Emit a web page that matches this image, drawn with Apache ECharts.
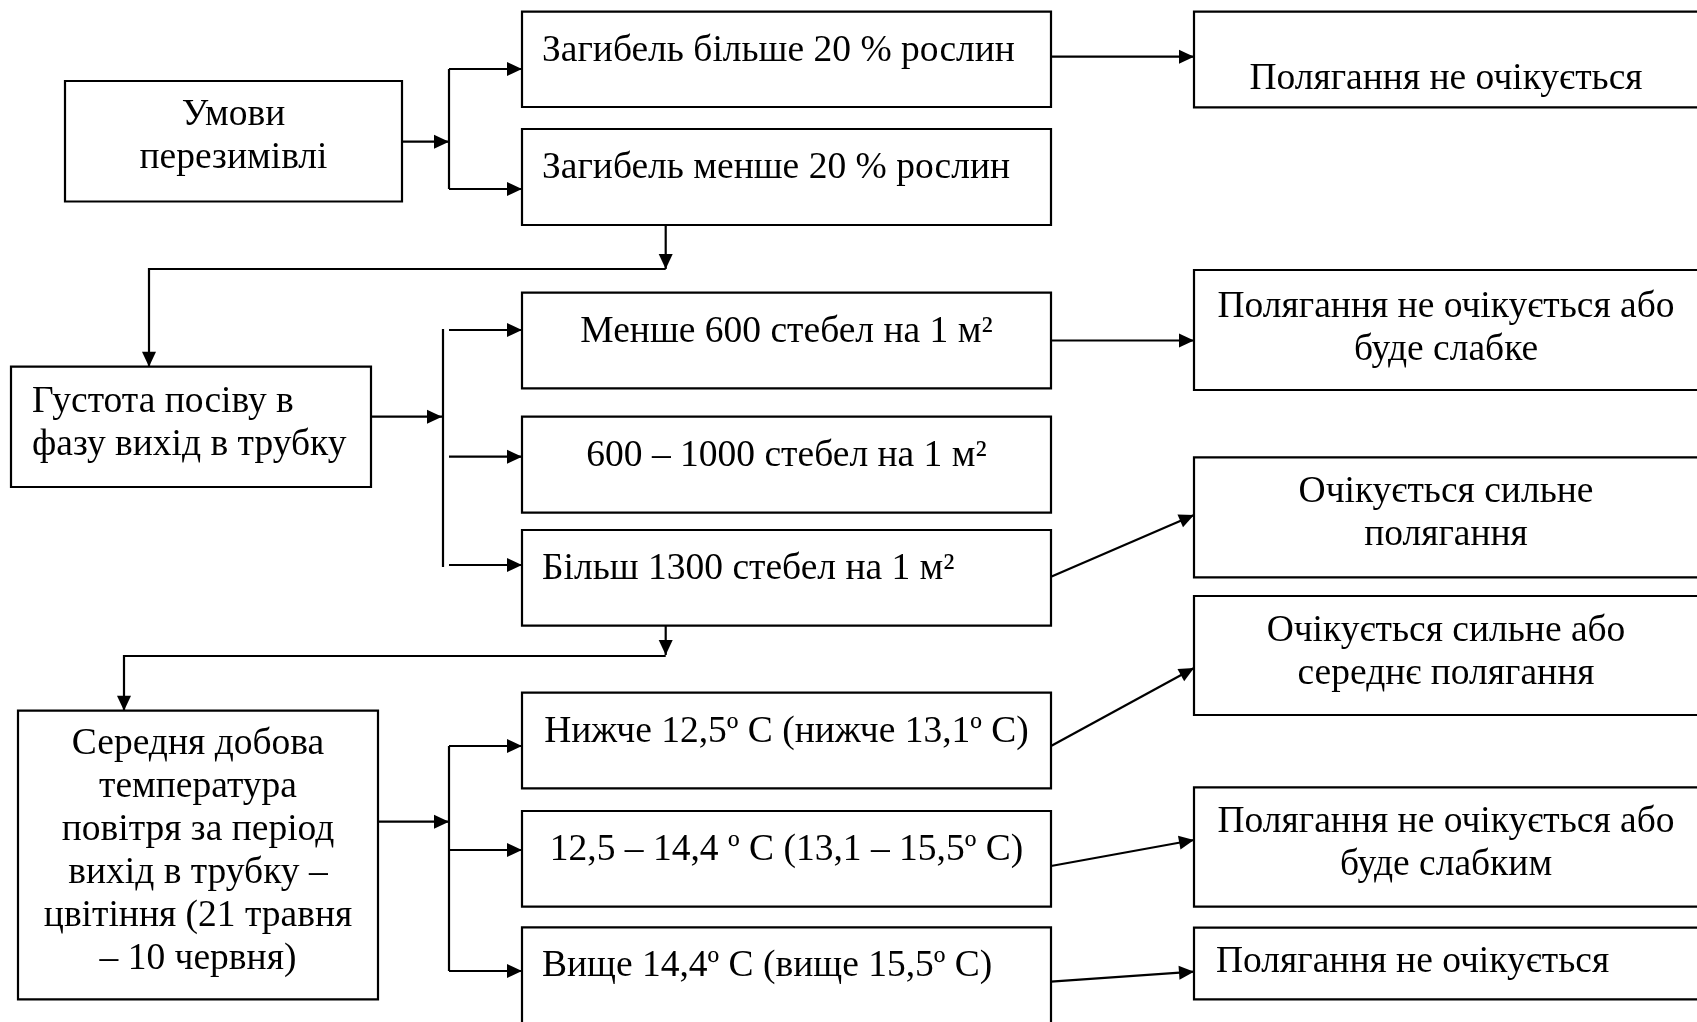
<!DOCTYPE html>
<html>
<head>
<meta charset="utf-8">
<script src="https://cdn.jsdelivr.net/npm/echarts@6/dist/echarts.min.js"></script>
<style>
    html, body { margin: 0; padding: 0; background: #fff; }
    #chart { width: 1697px; height: 1022px; }
</style>
</head>
<body>
<div id="chart"></div>
<script>
// texts of the scheme
const leftTexts = [
    'Умови\nперезимівлі',
    'Густота посіву в\nфазу вихід в трубку',
    'Середня добова\nтемпература\nповітря за період\nвихід в трубку –\nцвітіння (21 травня\n– 10 червня)'
];
const middleTexts = [
    'Загибель більше 20 % рослин',
    'Загибель менше 20 % рослин',
    'Менше 600 стебел на 1 м²',
    '600 – 1000 стебел на 1 м²',
    'Більш 1300 стебел на 1 м²',
    'Нижче 12,5º С (нижче 13,1º С)',
    '12,5 – 14,4 º С (13,1 – 15,5º С)',
    'Вище 14,4º С (вище 15,5º С)'
];
const rightTexts = [
    'Полягання не очікується',
    'Полягання не очікується або\nбуде слабке',
    'Очікується сильне\nполягання',
    'Очікується сильне або\nсереднє полягання',
    'Полягання не очікується або\nбуде слабким',
    'Полягання не очікується'
];

// layout (page units of the hidden axes): [x0, y0, x1, y1, textX, textY, align]
const leftLayout = [
    [65, 81, 402, 201.5, 233.5, 137, 'center'],
    [11, 366.7, 371, 487, 32, 424, 'left'],
    [18, 710.7, 378, 999.3, 198, 852, 'center']
];
const midX = [522, 1051];
const middleRows = [
    [11.7, 107, 'left'], [129, 225, 'left'], [292.7, 388.3, 'center'], [416.7, 512.7, 'center'],
    [530, 625.7, 'left'], [692.7, 788.3, 'center'], [811, 906.7, 'center'], [927.3, 1040, 'left']
];
const rightX = [1194, 1699];
const rightRows = [
    [11.7, 107.3, 'center', 79], [270, 390, 'center', 328.5], [457.3, 577.3, 'center', 513.5],
    [596, 715, 'center', 653], [787.3, 906.7, 'center', 843.5], [927.7, 999.3, 'left', 962]
];

// connectors: [points, withArrow]
const connectors = [
    [[[402, 141.7], [449, 141.7]], true],
    [[[449, 69], [449, 189]], false],
    [[[449, 69], [522, 69]], true],
    [[[449, 189], [522, 189]], true],
    [[[1051, 56.7], [1194, 56.7]], true],
    [[[665.7, 225], [665.7, 269]], true],
    [[[665.7, 269], [149, 269], [149, 366.7]], true],
    [[[371, 416.7], [442, 416.7]], true],
    [[[443, 329], [443, 567]], false],
    [[[449, 330], [522, 330]], true],
    [[[449, 456.7], [522, 456.7]], true],
    [[[449, 565], [522, 565]], true],
    [[[1051, 340.5], [1194, 340.5]], true],
    [[[1051, 576.7], [1194, 515]], true],
    [[[665.7, 625.7], [665.7, 655]], true],
    [[[665.7, 656], [124, 656], [124, 710.7]], true],
    [[[378, 821.7], [449, 821.7]], true],
    [[[449, 746], [449, 971]], false],
    [[[449, 746], [522, 746]], true],
    [[[449, 850], [522, 850]], true],
    [[[449, 971], [522, 971]], true],
    [[[1051, 746], [1194, 668]], true],
    [[[1051, 866], [1194, 840]], true],
    [[[1051, 981.7], [1194, 971.7]], true]
];

const boxes = [];
leftTexts.forEach(function (t, i) {
    const l = leftLayout[i];
    boxes.push({text: t, value: [l[0], l[1], l[2], l[3], l[4], l[5]], align: l[6]});
});
middleTexts.forEach(function (t, i) {
    const r = middleRows[i];
    const tx = r[2] === 'left' ? midX[0] + 20 : (midX[0] + midX[1]) / 2;
    boxes.push({text: t, value: [midX[0], r[0], midX[1], r[1], tx, r[0] + 39], align: r[2]});
});
rightTexts.forEach(function (t, i) {
    const r = rightRows[i];
    const tx = r[2] === 'left' ? 1216 : 1446;
    boxes.push({text: t, value: [rightX[0], r[0], rightX[1], r[1], tx, r[3]], align: r[2]});
});

const FONT = '37.5px "Liberation Serif", "Times New Roman", serif';

const myChart = echarts.init(document.getElementById('chart'));
const option = {
    animation: false,
    grid: {left: 0, right: 0, top: 0, bottom: 0},
    xAxis: {type: 'value', min: 0, max: 1697, show: false},
    yAxis: {type: 'value', min: 0, max: 1022, inverse: true, show: false},
    series: [
        {
            type: 'custom',
            coordinateSystem: 'cartesian2d',
            data: boxes.map(function (b) { return b.value; }),
            renderItem: function (params, api) {
                const b = boxes[params.dataIndex];
                const p0 = api.coord([api.value(0), api.value(1)]);
                const p1 = api.coord([api.value(2), api.value(3)]);
                const t = api.coord([api.value(4), api.value(5)]);
                return {
                    type: 'group',
                    children: [
                        {
                            type: 'rect',
                            shape: {x: p0[0], y: p0[1], width: p1[0] - p0[0], height: p1[1] - p0[1]},
                            style: {fill: '#fff', stroke: '#000', lineWidth: 2.2}
                        },
                        {
                            type: 'text',
                            x: t[0],
                            y: t[1],
                            style: {
                                text: b.text,
                                font: FONT,
                                fill: '#000',
                                align: b.align,
                                verticalAlign: 'middle',
                                lineHeight: 43
                            }
                        }
                    ]
                };
            }
        },
        {
            type: 'custom',
            coordinateSystem: 'cartesian2d',
            data: connectors.map(function (c, i) { return [c[0][0][0], c[0][0][1], i]; }),
            renderItem: function (params, api) {
                const c = connectors[params.dataIndex];
                const pts = c[0].map(function (p) { return api.coord(p); });
                const children = [{
                    type: 'polyline',
                    shape: {points: pts},
                    style: {fill: null, stroke: '#000', lineWidth: 2.2}
                }];
                if (c[1]) {
                    const a = pts[pts.length - 2], b = pts[pts.length - 1];
                    const dx = b[0] - a[0], dy = b[1] - a[1];
                    const len = Math.sqrt(dx * dx + dy * dy);
                    const ux = dx / len, uy = dy / len;
                    const L = 15, W = 7;
                    children.push({
                        type: 'polygon',
                        shape: {points: [
                            b,
                            [b[0] - ux * L - uy * W, b[1] - uy * L + ux * W],
                            [b[0] - ux * L + uy * W, b[1] - uy * L - ux * W]
                        ]},
                        style: {fill: '#000'}
                    });
                }
                return {type: 'group', children: children};
            }
        }
    ]
};

option && myChart.setOption(option);
</script>
</body>
</html>
